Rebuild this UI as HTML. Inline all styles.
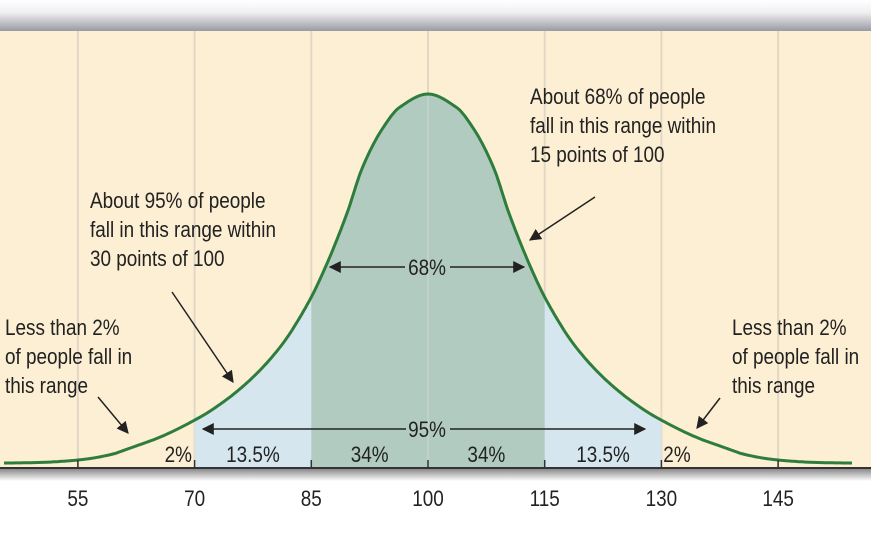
<!DOCTYPE html>
<html><head><meta charset="utf-8"><style>
html,body{margin:0;padding:0;background:#fff;}
svg{display:block;font-family:"Liberation Sans",sans-serif;}
</style></head><body>
<svg width="871" height="543" viewBox="0 0 871 543">
<defs>
<linearGradient id="topg" x1="0" y1="0" x2="0" y2="1"><stop offset="0" stop-color="#fff"/><stop offset="0.4" stop-color="#f0f0f2"/><stop offset="1" stop-color="#9a9aa2"/></linearGradient>
<linearGradient id="botg" x1="0" y1="0" x2="0" y2="1"><stop offset="0" stop-color="#8a8a8a"/><stop offset="1" stop-color="#fff"/></linearGradient>
<marker id="ah" viewBox="0 0 10 10" refX="9" refY="5" markerWidth="8" markerHeight="8" orient="auto-start-reverse"><path d="M0,0 L10,5 L0,10 z" fill="#222"/></marker>
</defs>
<rect x="0" y="0" width="871" height="31" fill="url(#topg)"/>
<rect x="0" y="31" width="871" height="437" fill="#fdefd3"/>
<rect x="0" y="469" width="871" height="12" fill="url(#botg)"/>
<g id="grid"></g>
<g id="fills"></g>
<g id="curve"></g>
<line x1="0" y1="468" x2="871" y2="468" stroke="#333" stroke-width="2"/>
<g id="ticks"></g>
<g id="labels" font-size="22" fill="#222"></g>
<g stroke="#222" stroke-width="1.5" fill="none">
<line x1="595" y1="197" x2="530" y2="240" marker-end="url(#ah)"/>
<line x1="172" y1="292" x2="233" y2="382" marker-end="url(#ah)"/>
<line x1="98" y1="397" x2="128" y2="433" marker-end="url(#ah)"/>
<line x1="720" y1="398" x2="697" y2="428" marker-end="url(#ah)"/>
<line x1="330" y1="267" x2="405" y2="267" marker-start="url(#ah)"/>
<line x1="450" y1="267" x2="524" y2="267" marker-end="url(#ah)"/>
<line x1="203" y1="429" x2="406" y2="429" marker-start="url(#ah)"/>
<line x1="450" y1="429" x2="645" y2="429" marker-end="url(#ah)"/>
</g>
<g id="mid" font-size="22" fill="#222"></g>
<g id="bands" font-size="22" fill="#222"></g>
<g id="xlabels" font-size="22" fill="#222"></g>
</svg>
<script>
const ticks = [55,70,85,100,115,130,145];
const bandLabels = ["2%","13.5%","34%","34%","13.5%","2%"];
const bandCenters = [67.9,77.5,92.5,107.5,122.5,132];
const curveDist = [0,3.6,5.8,8.4,10.4,12.9,15.2,19,23.3,27.6,30.2,34.4,37.9,41,45,50,54.5];
const curveHeight = [369,356,335,296,250,201,163,116,80,54,42,26,16,8,3,0.5,0];
const NS="http://www.w3.org/2000/svg";
const SX=0.86;
const x = v => 428 + (v-100)*7.78;
const base = 463;
const n=curveDist.length;
const sl=[];const m=[];
for(let i=0;i<n-1;i++)sl.push((curveHeight[i+1]-curveHeight[i])/(curveDist[i+1]-curveDist[i]));
m[0]=0;m[n-1]=0;
for(let i=1;i<n-1;i++){const a=sl[i-1],b=sl[i];m[i]=(a*b<=0)?0:2/(1/a+1/b);}
function hAt(d){
  d=Math.abs(d);
  if(d>=curveDist[n-1])return 0;
  let i=0;while(curveDist[i+1]<d)i++;
  const hh=curveDist[i+1]-curveDist[i],t=(d-curveDist[i])/hh;
  const t2=t*t,t3=t2*t;
  return (2*t3-3*t2+1)*curveHeight[i]+(t3-2*t2+t)*hh*m[i]+(-2*t3+3*t2)*curveHeight[i+1]+(t3-t2)*hh*m[i+1];
}
const y = v => base - hAt(v-100);
function el(t,a,p){const e=document.createElementNS(NS,t);for(const k in a)e.setAttribute(k,a[k]);document.getElementById(p).appendChild(e);return e;}
function label(p,cx,cy,lines,anchor,name){
  const g=document.createElementNS(NS,'g');
  g.setAttribute('transform','translate('+cx+','+cy+') scale('+SX+',1)');
  
  
  lines.forEach((s,i)=>{const t=document.createElementNS(NS,'text');t.setAttribute('x',0);t.setAttribute('y',i*29);t.setAttribute('text-anchor',anchor);t.textContent=s;g.appendChild(t);});
  document.getElementById(p).appendChild(g);
}
ticks.forEach(t=>{
  const g=el('line',{x1:x(t),y1:31,x2:x(t),y2:468,stroke:'#e2d8c6','stroke-width':2},'grid');
  
  
  const tk=el('line',{x1:x(t),y1:460,x2:x(t),y2:468,stroke:'#333','stroke-width':1.5},'ticks');
  
  
  label('xlabels',x(t),506,[String(t)],'middle','x-tick-label');
});
function area(a,b){let d='M'+x(a)+','+468;for(let v=a;v<=b+1e-9;v+=0.25)d+=' L'+x(v).toFixed(1)+','+y(v).toFixed(1);d+=' L'+x(b)+',468 Z';return d;}
const f1=el('path',{d:area(70,130),fill:'#d6e6ee'},'fills');


const f2=el('path',{d:area(85,115),fill:'#b2cbc1'},'fills');


const gl=el('line',{x1:x(100),y1:95,x2:x(100),y2:468,stroke:'#c3d3cb','stroke-width':1.5},'fills');


let d='';for(let v=45.5;v<=154.5;v+=0.25)d+=(d?' L':'M')+x(v).toFixed(1)+','+y(v).toFixed(1);
const c=el('path',{d:d,fill:'none',stroke:'#2e7d3c','stroke-width':3},'curve');


bandLabels.forEach((s,i)=>label('bands',x(bandCenters[i]),462,[s],'middle','band-label'));
label('mid',427,275,['68%'],'middle','label-68');
label('mid',427,437,['95%'],'middle','label-95');
label('labels',530,104,['About 68% of people','fall in this range within','15 points of 100'],'start','annotation-68');
label('labels',90,208,['About 95% of people','fall in this range within','30 points of 100'],'start','annotation-95');
label('labels',5,335,['Less than 2%','of people fall in','this range'],'start','annotation-left-tail');
label('labels',732,335,['Less than 2%','of people fall in','this range'],'start','annotation-right-tail');
</script>
</body></html>
